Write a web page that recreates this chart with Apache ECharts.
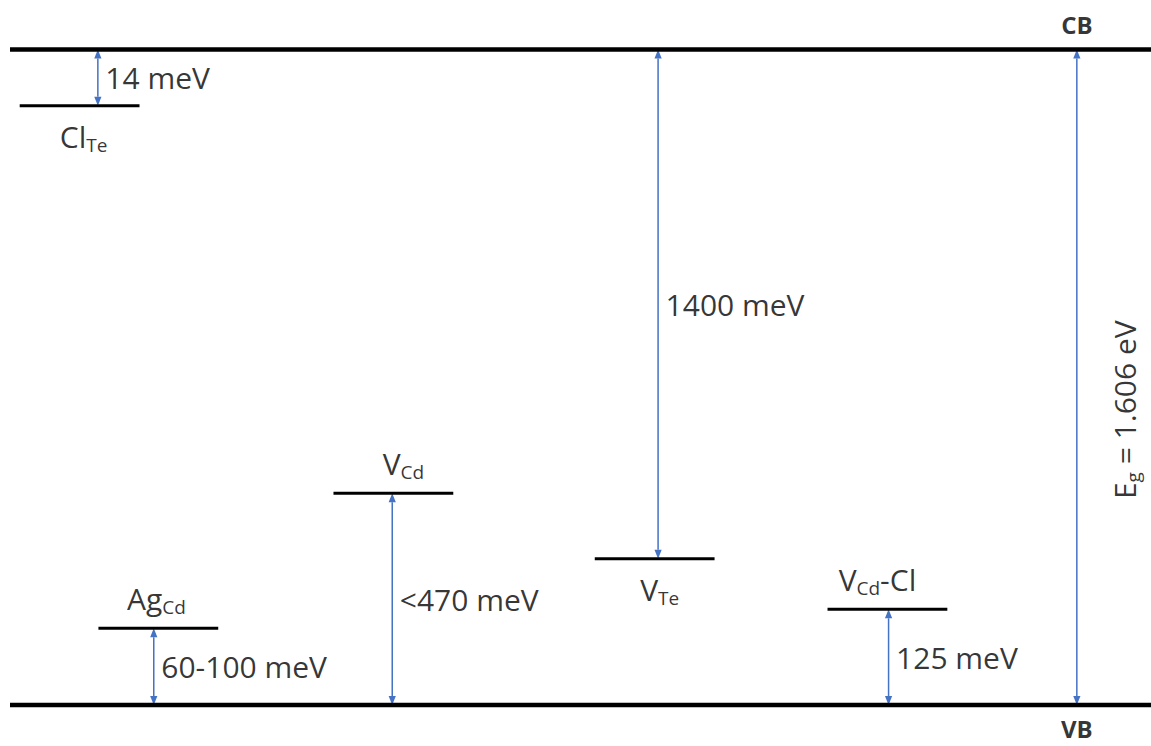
<!DOCTYPE html>
<html>
<head>
<meta charset="utf-8">
<title>CdTe defect levels</title>
<script src="https://cdn.jsdelivr.net/npm/echarts@6/dist/echarts.min.js"></script>
<style>
  html, body { margin: 0; padding: 0; background: #ffffff; }
  #chart { width: 1151px; height: 746px; }
</style>
</head>
<body>
<div id="chart"></div>
<script>
// Band diagram of CdTe defect levels (schematic, not to scale).
// Heights are given as % of the gap above the valence band; slots are
// horizontal columns across the diagram (0-100).

const bandNames = ['CB', 'VB'];
const bandHeight = [100, 0];
const bandGapEV = 1.606;

const defects = ['Cl_Te', 'Ag_Cd', 'V_Cd', 'V_Te', 'V_Cd-Cl'];
const defectLabels = ['{m|Cl}{s|Te}', '{m|Ag}{s|Cd}', '{m|V}{s|Cd}', '{m|V}{s|Te}', '{m|V}{s|Cd}{m|-Cl}'];
const levelHeight = [91.4, 11.7, 32.3, 22.3, 14.6];
const levelSlot = [6.1, 13.0, 33.6, 56.5, 76.9];
const arrowSlot = [7.7, 12.6, 33.5, 56.8, 77.0];
const measuredFrom = ['CB', 'VB', 'VB', 'CB', 'VB'];
const energyLabels = ['14 meV', '60-100 meV', '<470 meV', '1400 meV', '125 meV'];
const nameSide = ['below', 'above', 'above', 'below', 'above'];
const gapSlot = 93.5;

const FONT = '"Open Sans", "Noto Sans", sans-serif';
const BLUE = '#4472C4';
const LEVEL_HALF = 5.25;
// small horizontal nudges (px) for the defect name labels
const nameNudge = [4, -2, 10, 5, -10];

const rich = {
  m: { fontSize: 30, fontFamily: FONT, color: '#000', lineHeight: 36 },
  s: { fontSize: 19, fontFamily: FONT, color: '#000', lineHeight: 16, verticalAlign: 'bottom' }
};

const bandY = name => bandHeight[bandNames.indexOf(name)];

function renderBand(params, api) {
  const cs = params.coordSys;
  const y = api.coord([0, api.value(0)])[1];
  return {
    type: 'line',
    shape: { x1: cs.x, y1: y, x2: cs.x + cs.width, y2: y },
    style: { stroke: '#000', lineWidth: 4.5 }
  };
}

function renderLevel(params, api) {
  const a = api.coord([api.value(0) - LEVEL_HALF, api.value(1)]);
  const b = api.coord([api.value(0) + LEVEL_HALF, api.value(1)]);
  return {
    type: 'line',
    shape: { x1: a[0], y1: a[1], x2: b[0], y2: b[1] },
    style: { stroke: '#000', lineWidth: 3 }
  };
}

function renderArrow(params, api) {
  const x = api.value(0);
  const p1 = api.coord([x, api.value(1)]);
  const p2 = api.coord([x, api.value(2)]);
  const dir = p2[1] > p1[1] ? 1 : -1;
  const L = 9, W = 3.6;
  return {
    type: 'group',
    children: [
      { type: 'line', shape: { x1: p1[0], y1: p1[1] + dir * L, x2: p2[0], y2: p2[1] - dir * L },
        style: { stroke: BLUE, lineWidth: 1.5 } },
      { type: 'polygon', shape: { points: [[p1[0], p1[1]], [p1[0] - W, p1[1] + dir * L], [p1[0] + W, p1[1] + dir * L]] },
        style: { fill: BLUE } },
      { type: 'polygon', shape: { points: [[p2[0], p2[1]], [p2[0] - W, p2[1] - dir * L], [p2[0] + W, p2[1] - dir * L]] },
        style: { fill: BLUE } }
    ]
  };
}

const arrowData = defects.map((d, i) => [arrowSlot[i], levelHeight[i], bandY(measuredFrom[i])]);
arrowData.push([gapSlot, bandY('VB'), bandY('CB')]);

const hidden = { symbolSize: 1, itemStyle: { color: 'transparent' }, silent: true };

const option = {
  backgroundColor: '#ffffff',
  animation: false,
  grid: { left: 10, right: 0, top: 49.5, bottom: 41 },
  xAxis: { type: 'value', min: 0, max: 100, show: false },
  yAxis: { type: 'value', min: 0, max: 100, show: false },
  series: [
    {
      type: 'custom', name: 'arrows', z: 1, silent: true,
      renderItem: renderArrow,
      encode: { x: 0, y: [1, 2] },
      data: arrowData
    },
    {
      type: 'custom', name: 'levels', z: 2, silent: true,
      renderItem: renderLevel,
      encode: { x: 0, y: 1 },
      data: defects.map((d, i) => [levelSlot[i], levelHeight[i]])
    },
    {
      type: 'custom', name: 'bands', z: 3, silent: true,
      renderItem: renderBand,
      encode: { y: 0 },
      data: bandHeight.map(h => [h])
    },
    Object.assign({
      type: 'scatter', name: 'defect names', z: 4,
      data: defects.map((d, i) => ({
        value: [levelSlot[i], levelHeight[i]],
        label: {
          position: nameSide[i] === 'above' ? 'top' : 'bottom',
          distance: nameSide[i] === 'above' ? 11 : 12,
          offset: [nameNudge[i], 0],
          formatter: defectLabels[i]
        }
      })),
      label: { show: true, rich: rich }
    }, hidden),
    Object.assign({
      type: 'scatter', name: 'energies', z: 4,
      data: defects.map((d, i) => ({
        value: [arrowSlot[i], (levelHeight[i] + bandY(measuredFrom[i])) / 2],
        label: { formatter: energyLabels[i] }
      })),
      label: { show: true, position: 'right', distance: 7, fontSize: 30, fontFamily: FONT, color: '#000' }
    }, hidden),
    Object.assign({
      type: 'scatter', name: 'gap', z: 4,
      data: [{
        value: [gapSlot, (bandY('CB') + bandY('VB')) / 2],
        label: { formatter: '{m|E}{s|g}{m| = ' + bandGapEV.toFixed(3) + ' eV}' }
      }],
      label: { show: true, position: [48, 33], rotate: 90, align: 'center', verticalAlign: 'middle', rich: rich }
    }, hidden),
    Object.assign({
      type: 'scatter', name: 'band names', z: 4,
      data: bandNames.map((b, i) => ({
        value: [gapSlot, bandHeight[i]],
        label: { position: b === 'CB' ? 'top' : 'bottom', distance: b === 'CB' ? 13 : 11, formatter: b }
      })),
      label: { show: true, fontSize: 24, fontWeight: 'bold', fontFamily: FONT, color: '#000', lineHeight: 24 }
    }, hidden)
  ]
};

const chart = echarts.init(document.getElementById('chart'), null, { renderer: 'svg' });
chart.setOption(option);
</script>
</body>
</html>
